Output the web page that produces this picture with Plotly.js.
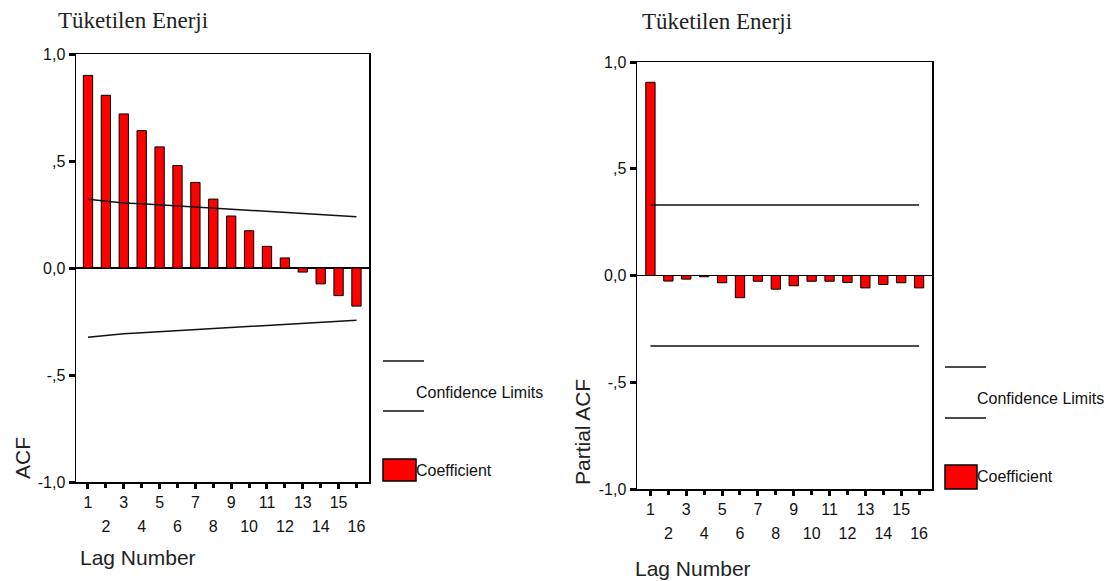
<!DOCTYPE html>
<html>
<head>
<meta charset="utf-8">
<script src="https://cdn.plot.ly/plotly-3.0.1.min.js"></script>
<style>html,body{margin:0;padding:0;background:#fff;}#chart{width:1117px;height:581px;}</style>
</head>
<body>
<div id="chart"></div>
<script>
// ---- data ----
const lags = [1,2,3,4,5,6,7,8,9,10,11,12,13,14,15,16];
const acf = [0.900,0.807,0.720,0.642,0.566,0.479,0.400,0.322,0.243,0.174,0.101,0.047,-0.019,-0.074,-0.129,-0.178];
const acfUpper = [0.321,0.312,0.304,0.300,0.295,0.291,0.287,0.281,0.277,0.271,0.265,0.260,0.255,0.249,0.244,0.240];
const acfLower = [-0.324,-0.315,-0.307,-0.303,-0.298,-0.294,-0.290,-0.284,-0.280,-0.274,-0.268,-0.263,-0.258,-0.252,-0.248,-0.244];
const pacf = [0.905,-0.026,-0.017,-0.006,-0.034,-0.104,-0.027,-0.064,-0.048,-0.027,-0.027,-0.033,-0.058,-0.042,-0.034,-0.058];
const pacfUpper = [0.330,0.330,0.330,0.330,0.330,0.330,0.330,0.330,0.330,0.330,0.330,0.330,0.330,0.330,0.330,0.330];
const pacfLower = [-0.330,-0.330,-0.330,-0.330,-0.330,-0.330,-0.330,-0.330,-0.330,-0.330,-0.330,-0.330,-0.330,-0.330,-0.330,-0.330];
const yTickVals = [-1, -0.5, 0, 0.5, 1];
const yTickText = ['-1,0', '-,5', '0,0', ',5', '1,0'];
const titleText = 'Tüketilen Enerji';
const leftYTitle = 'ACF';
const rightYTitle = 'Partial ACF';
const xTitle = 'Lag Number';
const legendLine = 'Confidence Limits';
const legendBar = 'Coefficient';

// ---- layout helpers ----
const W = 1117, H = 581;
const px = v => v / W;
const py = v => 1 - v / H;
const SANS = 'Liberation Sans, Arial, sans-serif';
const SERIF = 'Liberation Serif, Times New Roman, serif';
const oddLags = lags.filter(l => l % 2 === 1);
const evenLags = lags.filter(l => l % 2 === 0);

function xAxisBase(domain, range, anchor) {
  return {
    domain: domain, range: range, anchor: anchor,
    showgrid: false, zeroline: false,
    ticks: 'outside', ticklen: 5, tickwidth: 3, tickcolor: '#000',
    tickfont: {family: SANS, size: 16, color: '#111'},
    fixedrange: true
  };
}
function yAxisBase(domain, anchor) {
  return {
    domain: domain, range: [-1, 1], anchor: anchor,
    tickvals: yTickVals, ticktext: yTickText,
    ticks: 'outside', ticklen: 6, tickwidth: 3, tickcolor: '#000',
    tickfont: {family: SANS, size: 16, color: '#111'},
    showgrid: false,
    zeroline: true, zerolinecolor: '#000', zerolinewidth: 1.5,
    showline: true, mirror: true, linecolor: '#000', linewidth: 1.5,
    fixedrange: true
  };
}

const barStyle = {color: '#ff0000', line: {color: '#000', width: 1}};
const confStyle = {color: '#111', width: 1.5};

const traces = [
  {type: 'bar', x: lags, y: acf, xaxis: 'x', yaxis: 'y', width: 0.52, marker: barStyle, showlegend: false, hoverinfo: 'x+y'},
  {type: 'scatter', mode: 'lines', x: lags, y: acfUpper, xaxis: 'x3', yaxis: 'y', line: confStyle, showlegend: false},
  {type: 'scatter', mode: 'lines', x: lags, y: acfLower, xaxis: 'x3', yaxis: 'y', line: confStyle, showlegend: false},
  {type: 'bar', x: lags, y: pacf, xaxis: 'x2', yaxis: 'y2', width: 0.52, marker: barStyle, showlegend: false, hoverinfo: 'x+y'},
  {type: 'scatter', mode: 'lines', x: lags, y: pacfUpper, xaxis: 'x4', yaxis: 'y2', line: confStyle, showlegend: false},
  {type: 'scatter', mode: 'lines', x: lags, y: pacfLower, xaxis: 'x4', yaxis: 'y2', line: confStyle, showlegend: false}
];

const leftXDom = [px(76), px(369)];
const leftYDom = [py(482), py(54)];
const rightXDom = [px(637), px(932)];
const rightYDom = [py(489), py(62)];
const leftRange = [0.33, 16.7];
const rightRange = [0.25, 16.72];

const xaxis = Object.assign(xAxisBase(leftXDom, leftRange, 'y'), {
  tickvals: oddLags, ticktext: oddLags.map(String),
  showline: true, mirror: true, linecolor: '#000', linewidth: 1.5
});
const xaxis3 = Object.assign(xAxisBase(leftXDom, leftRange, 'y'), {
  overlaying: 'x', side: 'bottom',
  tickvals: evenLags, ticktext: evenLags.map(String),
  ticklabelstandoff: 25, showline: false
});
const xaxis2 = Object.assign(xAxisBase(rightXDom, rightRange, 'y2'), {
  tickvals: oddLags, ticktext: oddLags.map(String),
  showline: true, mirror: true, linecolor: '#000', linewidth: 1.5
});
const xaxis4 = Object.assign(xAxisBase(rightXDom, rightRange, 'y2'), {
  overlaying: 'x2', side: 'bottom',
  tickvals: evenLags, ticktext: evenLags.map(String),
  ticklabelstandoff: 25, showline: false
});

function txt(text, x, y, opts) {
  return Object.assign({
    text: text, x: px(x), y: py(y), xref: 'paper', yref: 'paper',
    xanchor: 'left', yanchor: 'middle', showarrow: false,
    font: {family: SANS, size: 16, color: '#111'}
  }, opts || {});
}

const annotations = [
  txt(titleText, 56, 20, {font: {family: SERIF, size: 23, color: '#222'}}),
  txt(titleText, 640, 22, {font: {family: SERIF, size: 23, color: '#222'}}),
  txt(leftYTitle, 22, 458, {xanchor: 'center', textangle: -90, font: {family: SANS, size: 21, color: '#222'}}),
  txt(rightYTitle, 582, 432, {xanchor: 'center', textangle: -90, font: {family: SANS, size: 21, color: '#222'}}),
  txt(xTitle, 78, 557, {font: {family: SANS, size: 21, color: '#222'}}),
  txt(xTitle, 633, 568, {font: {family: SANS, size: 21, color: '#222'}}),
  txt(legendLine, 414, 392),
  txt(legendBar, 414, 470),
  txt(legendLine, 975, 398),
  txt(legendBar, 975, 477)
];

function hline(x0, x1, y) {
  return {type: 'line', xref: 'paper', yref: 'paper', x0: px(x0), x1: px(x1), y0: py(y), y1: py(y), line: {color: '#111', width: 1.5}};
}
function box(x0, x1, y0, y1) {
  return {type: 'rect', xref: 'paper', yref: 'paper', x0: px(x0), x1: px(x1), y0: py(y1), y1: py(y0), fillcolor: '#ff0000', line: {color: '#000', width: 1.5}};
}
const shapes = [
  hline(383, 424, 361), hline(383, 424, 411), box(383, 416, 459, 481),
  hline(945, 986, 367), hline(945, 986, 418), box(945, 977, 465, 489)
];

const layout = {
  width: W, height: H,
  margin: {l: 0, r: 0, t: 0, b: 0},
  paper_bgcolor: '#fff', plot_bgcolor: '#fff',
  showlegend: false, bargap: 0,
  xaxis: xaxis, xaxis2: xaxis2, xaxis3: xaxis3, xaxis4: xaxis4,
  yaxis: yAxisBase(leftYDom, 'x'),
  yaxis2: yAxisBase(rightYDom, 'x2'),
  annotations: annotations,
  shapes: shapes
};

Plotly.newPlot('chart', traces, layout, {displayModeBar: false, staticPlot: true});
</script>
</body>
</html>
